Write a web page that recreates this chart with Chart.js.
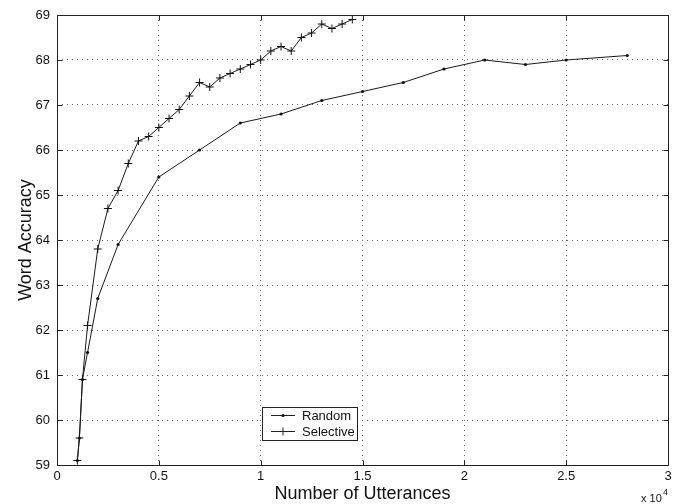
<!DOCTYPE html>
<html>
<head>
<meta charset="utf-8">
<script src="https://cdn.jsdelivr.net/npm/chart.js@4.4.1/dist/chart.umd.min.js"></script>
<style>
  html, body { margin: 0; padding: 0; background: #fff; }
  #wrap { width: 673px; height: 504px; position: relative; }
</style>
</head>
<body>
<div id="wrap"><canvas id="accCanvas" width="673" height="504"></canvas></div>
<script>
// data (x = number of utterances)
const randomX = [1000, 1100, 1250, 1500, 2000, 3000, 5000, 7000, 9000, 11000, 13000, 15000, 17000, 19000, 21000, 23000, 25000, 28000];
const randomY = [59.1, 59.6, 60.9, 61.5, 62.7, 63.9, 65.4, 66.0, 66.6, 66.8, 67.1, 67.3, 67.5, 67.8, 68.0, 67.9, 68.0, 68.1];

const selectiveX = [1000, 1100, 1250, 1500, 2000, 2500, 3000, 3500, 4000, 4500, 5000, 5500, 6000, 6500, 7000, 7500, 8000, 8500, 9000, 9500, 10000, 10500, 11000, 11500, 12000, 12500, 13000, 13500, 14000, 14500];
const selectiveY = [59.1, 59.6, 60.9, 62.1, 63.8, 64.7, 65.1, 65.7, 66.2, 66.3, 66.5, 66.7, 66.9, 67.2, 67.5, 67.4, 67.6, 67.7, 67.8, 67.9, 68.0, 68.2, 68.3, 68.2, 68.5, 68.6, 68.8, 68.7, 68.8, 68.9];

const xTicks = [0, 5000, 10000, 15000, 20000, 25000, 30000];
const yTicks = [59, 60, 61, 62, 63, 64, 65, 66, 67, 68, 69];

const seriesNames = ['Random', 'Selective'];
const FONT = 'Liberation Sans, Arial, Helvetica, sans-serif';

function toPoints(xs, ys) {
    return xs.map((x, i) => ({ x: x, y: ys[i] }));
}

// box, inward ticks, the x10^4 label and the legend, matlab style
const matlabPlugin = {
    id: 'matlabBox',
    afterDraw(chart) {
        const ctx = chart.ctx;
        const a = chart.chartArea;
        const sx = chart.scales.x;
        const sy = chart.scales.y;
        const L = Math.round(a.left) + 0.5, R = Math.round(a.right) + 0.5;
        const T = Math.round(a.top) + 0.5, B = Math.round(a.bottom) + 0.5;

        ctx.save();
        ctx.strokeStyle = '#222';
        ctx.lineWidth = 1;
        ctx.beginPath();
        ctx.rect(L, T, R - L, B - T);
        xTicks.forEach(v => {
            const px = Math.round(sx.getPixelForValue(v)) + 0.5;
            ctx.moveTo(px, B); ctx.lineTo(px, B - 5);
            ctx.moveTo(px, T); ctx.lineTo(px, T + 5);
        });
        yTicks.forEach(v => {
            const py = Math.round(sy.getPixelForValue(v)) + 0.5;
            ctx.moveTo(L, py); ctx.lineTo(L + 5, py);
            ctx.moveTo(R, py); ctx.lineTo(R - 5, py);
        });
        ctx.stroke();

        // exponent label
        ctx.fillStyle = '#111';
        ctx.textBaseline = 'alphabetic';
        ctx.textAlign = 'left';
        ctx.font = '11px ' + FONT;
        ctx.fillText('x 10', 641, 502);
        ctx.font = '9px ' + FONT;
        ctx.fillText('4', 663, 495);

        // legend
        const lx = 262.5, ly = 407.5, lw = 95, lh = 33;
        ctx.fillStyle = '#fff';
        ctx.fillRect(lx, ly, lw, lh);
        ctx.strokeRect(lx, ly, lw, lh);
        const rows = [415.5, 431.5];
        ctx.font = '13px ' + FONT;
        ctx.textBaseline = 'middle';
        rows.forEach((ry, i) => {
            ctx.beginPath();
            ctx.moveTo(271, ry); ctx.lineTo(295, ry);
            if (i === 1) {
                ctx.moveTo(283, ry - 4); ctx.lineTo(283, ry + 4);
                ctx.moveTo(279, ry); ctx.lineTo(287, ry);
            }
            ctx.stroke();
            if (i === 0) {
                ctx.beginPath();
                ctx.arc(283, ry, 1.6, 0, Math.PI * 2);
                ctx.fillStyle = '#111';
                ctx.fill();
            }
            ctx.fillStyle = '#111';
            ctx.fillText(seriesNames[i], 302, ry + 0.5);
        });
        ctx.restore();
    }
};

function accuracyChart() {
    const canvas = document.getElementById('accCanvas');
    const chart = new Chart(canvas, {
        type: 'scatter',
        data: {
            datasets: [{
                label: seriesNames[0],
                data: toPoints(randomX, randomY),
                showLine: true,
                borderColor: '#1a1a1a',
                borderWidth: 1,
                pointStyle: 'circle',
                pointRadius: 1.6,
                pointBackgroundColor: '#111',
                pointBorderWidth: 0
            }, {
                label: seriesNames[1],
                data: toPoints(selectiveX, selectiveY),
                showLine: true,
                borderColor: '#1a1a1a',
                borderWidth: 1,
                pointStyle: 'cross',
                pointRadius: 4,
                pointBorderColor: '#111',
                pointBorderWidth: 1
            }]
        },
        options: {
            responsive: false,
            animation: false,
            layout: { padding: { top: 15, right: 4, left: 0, bottom: 0 } },
            plugins: { legend: { display: false }, tooltip: { enabled: false } },
            scales: {
                x: {
                    type: 'linear',
                    min: 0, max: 30000,
                    afterBuildTicks: s => { s.ticks = xTicks.map(v => ({ value: v })); },
                    afterFit: s => { s.height = 39; s.paddingLeft = 0; s.paddingRight = 0; },
                    ticks: {
                        padding: 4,
                        maxRotation: 0,
                        color: '#111',
                        font: { family: FONT, size: 13 },
                        callback: v => String(v / 10000)
                    },
                    grid: { color: '#666', lineWidth: 1, drawTicks: false },
                    border: { display: false, dash: [1, 4] },
                    title: {
                        display: true,
                        text: 'Number of Utterances',
                        color: '#111',
                        font: { family: FONT, size: 18, lineHeight: 1 },
                        padding: { top: 0, bottom: 1 }
                    }
                },
                y: {
                    min: 59, max: 69,
                    afterBuildTicks: s => { s.ticks = yTicks.map(v => ({ value: v })); },
                    afterFit: s => { s.width = 57; s.paddingTop = 0; s.paddingBottom = 0; },
                    ticks: {
                        padding: 7,
                        color: '#111',
                        font: { family: FONT, size: 13 }
                    },
                    grid: { color: '#666', lineWidth: 1, drawTicks: false },
                    border: { display: false, dash: [1, 4] },
                    title: {
                        display: true,
                        text: 'Word Accuracy',
                        color: '#111',
                        font: { family: FONT, size: 18, lineHeight: 1 },
                        padding: { top: 17, bottom: 0 }
                    }
                }
            }
        },
        plugins: [matlabPlugin]
    });
    return chart;
}

accuracyChart();
</script>
</body>
</html>
